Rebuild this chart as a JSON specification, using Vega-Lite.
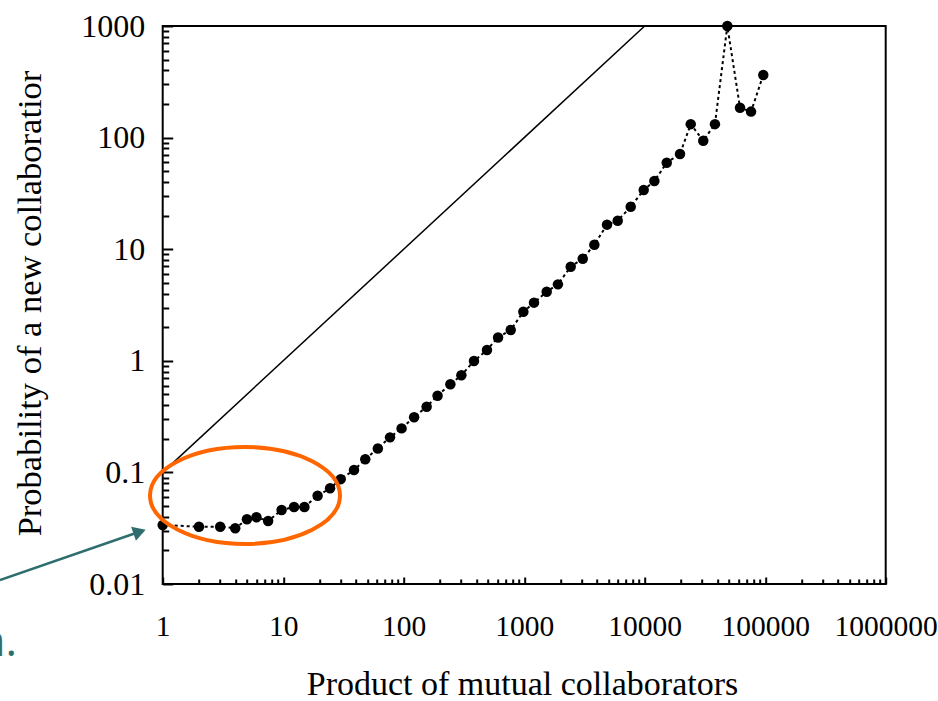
{
  "$schema": "https://vega.github.io/schema/vega-lite/v6.json",
  "width": 723,
  "height": 558,
  "autosize": {"type": "none"},
  "padding": {"left": 162.7, "top": 26, "right": 52.3, "bottom": 117},
  "background": "white",
  "config": {
    "view": {"stroke": "black", "strokeWidth": 2},
    "axis": {"grid": false, "domain": false}
  },
  "datasets": {
    "series": [
      {"x": 1, "y": 0.0338}, {"x": 2, "y": 0.0326}, {"x": 3, "y": 0.0326}, {"x": 4, "y": 0.0316},
      {"x": 5, "y": 0.038}, {"x": 6, "y": 0.0396}, {"x": 7.5, "y": 0.0367}, {"x": 9.7, "y": 0.046},
      {"x": 12.3, "y": 0.049}, {"x": 15, "y": 0.049}, {"x": 19.3, "y": 0.0618}, {"x": 24.5, "y": 0.072},
      {"x": 30, "y": 0.087}, {"x": 38.7, "y": 0.105}, {"x": 48, "y": 0.131}, {"x": 61, "y": 0.164},
      {"x": 77, "y": 0.206}, {"x": 96, "y": 0.248}, {"x": 122, "y": 0.312}, {"x": 155, "y": 0.388},
      {"x": 191, "y": 0.487}, {"x": 244, "y": 0.616}, {"x": 301, "y": 0.741}, {"x": 383, "y": 0.995},
      {"x": 491, "y": 1.25}, {"x": 607, "y": 1.62}, {"x": 773, "y": 1.89}, {"x": 984, "y": 2.75},
      {"x": 1206, "y": 3.32}, {"x": 1537, "y": 4.16}, {"x": 1905, "y": 4.84}, {"x": 2432, "y": 6.97},
      {"x": 3061, "y": 8.22}, {"x": 3821, "y": 10.97}, {"x": 4867, "y": 16.6}, {"x": 5970, "y": 18.0},
      {"x": 7656, "y": 24.0}, {"x": 9815, "y": 33.9}, {"x": 12030, "y": 40.8}, {"x": 15240, "y": 59.6},
      {"x": 19640, "y": 71.3}, {"x": 24100, "y": 132}, {"x": 30620, "y": 93.8}, {"x": 38280, "y": 132},
      {"x": 48500, "y": 1000}, {"x": 61800, "y": 185}, {"x": 76300, "y": 171}, {"x": 96400, "y": 364}
    ],
    "diagonal": [{"x": 1, "y": 0.1}, {"x": 10000, "y": 1000}],
    "note": [{"k": 0}]
  },
  "layer": [
    {
      "data": {"name": "diagonal"},
      "mark": {"type": "line", "color": "black", "strokeWidth": 1.5},
      "encoding": {
        "x": {
          "field": "x",
          "type": "quantitative",
          "scale": {"type": "log", "domain": [1, 1000000], "nice": false},
          "axis": {
            "title": "Product of mutual collaborators",
            "values": [1,2,3,4,5,6,7,8,9,10,20,30,40,50,60,70,80,90,100,200,300,400,500,600,700,800,900,1000,2000,3000,4000,5000,6000,7000,8000,9000,10000,20000,30000,40000,50000,60000,70000,80000,90000,100000,200000,300000,400000,500000,600000,700000,800000,900000,1000000],
            "tickSize": {"condition": {"test": "abs(log(datum.value)/LN10 - round(log(datum.value)/LN10)) < 0.001", "value": -7}, "value": -5},
            "tickColor": "black",
            "tickWidth": 2,
            "labelExpr": "abs(log(datum.value)/LN10 - round(log(datum.value)/LN10)) < 0.001 ? format(datum.value, '~f') : ''",
            "labelFont": "Liberation Serif",
            "labelFontSize": 29.5,
            "labelColor": "black",
            "labelPadding": 35,
            "labelFlush": false,
            "labelOverlap": false,
            "labelBound": false,
            "titleFont": "Liberation Serif",
            "titleFontSize": 34,
            "titleFontWeight": "normal",
            "titleColor": "black",
            "titleX": 359.3,
            "titleY": 110,
            "titleBaseline": "alphabetic",
            "titleAlign": "center"
          }
        },
        "y": {
          "field": "y",
          "type": "quantitative",
          "scale": {"type": "log", "domain": [0.01, 1000], "nice": false},
          "axis": {
            "title": "Probability of a new collaboratior",
            "values": [0.01,0.02,0.03,0.04,0.05,0.06,0.07,0.08,0.09,0.1,0.2,0.3,0.4,0.5,0.6,0.7,0.8,0.9,1,2,3,4,5,6,7,8,9,10,20,30,40,50,60,70,80,90,100,200,300,400,500,600,700,800,900,1000],
            "tickSize": {"condition": {"test": "abs(log(datum.value)/LN10 - round(log(datum.value)/LN10)) < 0.001", "value": -10}, "value": -6},
            "tickColor": "black",
            "tickWidth": 2,
            "labelExpr": "abs(log(datum.value)/LN10 - round(log(datum.value)/LN10)) < 0.001 ? format(datum.value, '~f') : ''",
            "labelFont": "Liberation Serif",
            "labelFontSize": 32,
            "labelColor": "black",
            "labelPadding": 28,
            "labelFlush": false,
            "labelOverlap": false,
            "labelBound": false,
            "titleFont": "Liberation Serif",
            "titleFontSize": 34.5,
            "titleFontWeight": "normal",
            "titleColor": "black",
            "titleX": -122.7,
            "titleY": 277,
            "titleAngle": -90,
            "titleBaseline": "alphabetic",
            "titleAlign": "center"
          }
        }
      }
    },
    {
      "data": {"name": "series"},
      "mark": {"type": "line", "color": "black", "strokeWidth": 2, "strokeDash": [3, 3]},
      "encoding": {
        "x": {"field": "x", "type": "quantitative"},
        "y": {"field": "y", "type": "quantitative"}
      }
    },
    {
      "data": {"name": "series"},
      "mark": {"type": "circle", "color": "black", "opacity": 1, "size": 110},
      "encoding": {
        "x": {"field": "x", "type": "quantitative"},
        "y": {"field": "y", "type": "quantitative"}
      }
    },
    {
      "data": {"name": "note"},
      "mark": {
        "type": "point",
        "shape": "M -1 0 C -1 -0.2817 -0.5523 -0.51 0 -0.51 C 0.5523 -0.51 1 -0.2817 1 0 C 1 0.2817 0.5523 0.51 0 0.51 C -0.5523 0.51 -1 0.2817 -1 0 Z",
        "size": 36100,
        "filled": false,
        "stroke": "#FF6600",
        "strokeWidth": 4,
        "opacity": 1
      },
      "encoding": {"x": {"datum": 4.82, "type": "quantitative"}, "y": {"datum": 0.0621, "type": "quantitative"}}
    },
    {
      "data": {"name": "note"},
      "mark": {"type": "rule", "color": "#2F6E6E", "strokeWidth": 2.5},
      "encoding": {"x": {"datum": 0.0446, "type": "quantitative"}, "y": {"datum": 0.01083, "type": "quantitative"}, "x2": {"datum": 0.643}, "y2": {"datum": 0.0294}}
    },
    {
      "data": {"name": "note"},
      "mark": {"type": "point", "shape": "triangle-right", "angle": 341, "size": 220, "filled": true, "color": "#2F6E6E", "opacity": 1},
      "encoding": {"x": {"datum": 0.643, "type": "quantitative"}, "y": {"datum": 0.0294, "type": "quantitative"}}
    },
    {
      "data": {"name": "note"},
      "mark": {"type": "text", "text": "n.", "font": "Open Sans", "fontSize": 44, "align": "right", "baseline": "alphabetic", "color": "#2F6E6E"},
      "encoding": {"x": {"datum": 0.0618, "type": "quantitative"}, "y": {"datum": 0.00226, "type": "quantitative"}}
    }
  ]
}
